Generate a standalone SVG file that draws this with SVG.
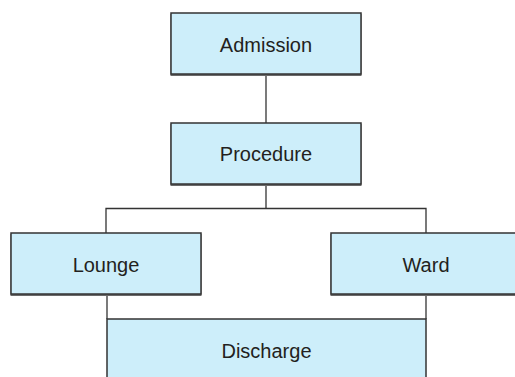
<svg xmlns="http://www.w3.org/2000/svg" width="515" height="377" viewBox="0 0 515 377">
  <defs>
    <style>
      .box { fill: #cdeefa; stroke: #333; stroke-width: 1.5; }
      .shadow { fill: #6a6a6a; }
      .lbl { font-family: "Liberation Sans", Arial, sans-serif; font-size: 20px; fill: #231f20; text-anchor: middle; }
      .conn { stroke: #333; stroke-width: 1.3; fill: none; }
    </style>
  </defs>
  <rect width="515" height="377" fill="#ffffff"/>
  <g id="connectors">
    <line class="conn" x1="266" y1="74" x2="266" y2="124"/>
    <line class="conn" x1="266" y1="185" x2="266" y2="208.5"/>
    <polyline class="conn" points="106,233 106,208.5 426,208.5 426,233"/>
    <line class="conn" x1="107" y1="295" x2="107" y2="319"/>
    <line class="conn" x1="426" y1="295" x2="426" y2="319"/>
  </g>
  <g id="admission">
    <rect class="shadow" x="170.5" y="14" width="191" height="62"/>
    <rect class="box" x="171" y="13" width="190" height="61"/>
    <text class="lbl" x="266" y="52">Admission</text>
  </g>
  <g id="procedure">
    <rect class="shadow" x="170.5" y="124" width="191" height="62"/>
    <rect class="box" x="171" y="123" width="190" height="61"/>
    <text class="lbl" x="266" y="161">Procedure</text>
  </g>
  <g id="lounge">
    <rect class="shadow" x="10.5" y="234" width="191" height="62"/>
    <rect class="box" x="11" y="233" width="190" height="61"/>
    <text class="lbl" x="106" y="272">Lounge</text>
  </g>
  <g id="ward">
    <rect class="shadow" x="330.5" y="234" width="191" height="62"/>
    <rect class="box" x="331" y="233" width="190" height="61"/>
    <text class="lbl" x="426" y="272">Ward</text>
  </g>
  <g id="discharge">
    <rect class="box" x="107" y="319" width="319" height="70"/>
    <text class="lbl" x="266.5" y="358">Discharge</text>
  </g>
</svg>
